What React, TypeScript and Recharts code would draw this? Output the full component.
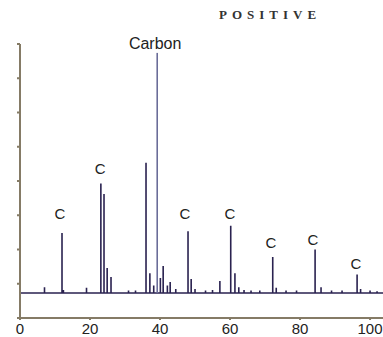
import { ComposedChart, Line, XAxis, YAxis, ReferenceDot } from "recharts";

// baseline level of the trace (y units = one tick step)
const baseLevel = 0.73;

// main peaks, m/z and top of the stick
const peakMz = [7, 12, 12.4, 19, 23.1, 24, 24.9, 26, 31, 33, 36, 37.1, 38.2, 40.1, 40.9, 42.1, 42.9, 44.5, 48, 48.9, 50, 53, 55, 57.1, 60.2, 61.4, 62.5, 64, 66, 68.5, 72.2, 73.2, 76, 79, 84.3, 86, 89, 92, 96.3, 97.3, 100, 102];
const peakTop = [0.9, 2.48, 0.82, 0.88, 3.93, 3.62, 1.46, 1.2, 0.8, 0.8, 4.53, 1.31, 0.95, 1.17, 1.52, 0.95, 1.05, 0.85, 2.53, 1.14, 0.85, 0.8, 0.82, 1.08, 2.69, 1.31, 0.9, 0.82, 0.8, 0.8, 1.78, 0.88, 0.8, 0.8, 2.0, 0.9, 0.8, 0.8, 1.27, 0.85, 0.8, 0.78];

// the big carbon peak, drawn on its own
const carbonMz = 39.2;
const carbonTop = 7.74;

const xTicks = [0, 20, 40, 60, 80, 100];
const yTicks = [0, 1, 2, 3, 4, 5, 6, 7, 8];

// peak annotations
const labelText = ["C", "C", "C", "C", "C", "C", "C", "Carbon"];
const labelMz = [11.4, 22.9, 47.1, 60.0, 71.7, 83.7, 96.0, 38.6];
const labelLevel = [3.05, 4.35, 3.05, 3.05, 2.2, 2.3, 1.6, 8.03];

const trace = [{ mz: 0, v: baseLevel }];
peakMz.forEach((mz, i) => {
  trace.push({ mz, v: baseLevel }, { mz, v: peakTop[i] }, { mz, v: baseLevel });
});
trace.push({ mz: 103.7, v: baseLevel });

const carbonTrace = [
  { mz: carbonMz, v: baseLevel },
  { mz: carbonMz, v: carbonTop },
];

const AXIS = "#857b66";

export default function App() {
  return (
    <div style={{ position: "absolute", left: 0, top: 0, width: 383, height: 337, background: "#fff" }}>
      <div
        style={{
          position: "absolute",
          left: 219,
          top: 7,
          fontFamily: "Liberation Serif",
          fontWeight: "bold",
          fontSize: 13,
          letterSpacing: 5,
          color: "#333",
        }}
      >
        POSITIVE
      </div>
      <ComposedChart width={383} height={337} margin={{ top: 44, right: 0, bottom: 0, left: 0 }}>
        <XAxis
          type="number"
          dataKey="mz"
          domain={[0, 103.7]}
          ticks={xTicks}
          height={19}
          stroke={AXIS}
          strokeWidth={2}
          tickSize={2}
          tickMargin={3}
          tick={{ fontSize: 15, fill: "#222", fontFamily: "Liberation Sans" }}
          allowDataOverflow
        />
        <YAxis
          type="number"
          domain={[0, 8]}
          ticks={yTicks}
          width={20}
          stroke={AXIS}
          strokeWidth={2}
          tickSize={3}
          tickFormatter={() => ""}
          allowDataOverflow
        />
        <Line
          data={trace}
          dataKey="v"
          type="linear"
          stroke="#2a2250"
          strokeWidth={1.6}
          dot={false}
          isAnimationActive={false}
        />
        <Line
          data={carbonTrace}
          dataKey="v"
          type="linear"
          stroke="#6a6c98"
          strokeWidth={1.6}
          dot={false}
          isAnimationActive={false}
        />
        {labelText.map((t, i) => (
          <ReferenceDot
            key={i}
            x={labelMz[i]}
            y={labelLevel[i]}
            r={0}
            fill="none"
            stroke="none"
            ifOverflow="visible"
            label={{
              value: t,
              position: "center",
              fill: "#222",
              fontSize: t === "C" ? 15 : 16,
              fontFamily: "Liberation Sans",
            }}
          />
        ))}
      </ComposedChart>
    </div>
  );
}
